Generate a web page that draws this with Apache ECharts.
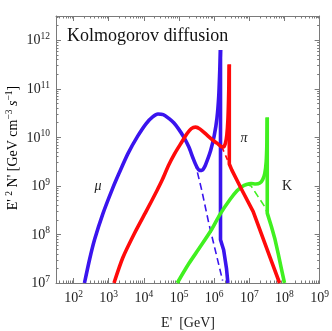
<!DOCTYPE html>
<html><head><meta charset="utf-8">
<script src="https://cdn.jsdelivr.net/npm/echarts@6/dist/echarts.min.js"></script>
<style>html,body{margin:0;padding:0;background:#fff}#c{width:332px;height:331px}</style>
</head><body><div id="c"></div>
<script>
// ---- data: log10(E'/GeV) and log10(E'^2 N') ----
const xTickExp = [2, 3, 4, 5, 6, 7, 8, 9];
const yTickExp = [7, 8, 9, 10, 11, 12];

// mu (blue)
const muE = [2.31, 2.46, 2.60, 2.83, 3.10, 3.30, 3.55, 3.82, 4.06, 4.25, 4.40, 4.55, 4.71, 4.85, 4.99, 5.14, 5.28, 5.40, 5.50, 5.58, 5.65, 5.72, 5.80, 5.90, 6.00, 6.08, 6.13, 6.16, 6.18];
const muN = [7.00, 7.50, 7.90, 8.42, 8.93, 9.27, 9.67, 10.02, 10.28, 10.42, 10.48, 10.47, 10.39, 10.30, 10.17, 10.00, 9.80, 9.57, 9.40, 9.32, 9.32, 9.38, 9.52, 9.73, 10.03, 10.40, 10.85, 11.40, 11.80];
const muTailE = [6.18, 6.18, 6.27, 6.35, 6.39];
const muTailN = [11.80, 7.89, 7.68, 7.30, 7.00];
const muDashE = [5.45, 5.65, 5.85, 6.05, 6.24];
const muDashN = [9.50, 8.90, 8.22, 7.62, 7.05];

// pi (red)
const piE = [3.15, 3.40, 3.73, 4.06, 4.37, 4.52, 4.70, 4.88, 5.04, 5.23, 5.35, 5.47, 5.60, 5.79, 5.95, 6.08, 6.18, 6.26, 6.32, 6.36, 6.39, 6.41, 6.43];
const piN = [7.00, 7.52, 8.02, 8.47, 8.90, 9.12, 9.42, 9.67, 9.86, 10.08, 10.18, 10.21, 10.17, 10.05, 9.95, 9.88, 9.82, 9.80, 9.88, 10.05, 10.35, 10.80, 11.50];
const piTailE = [6.43, 6.43, 6.50, 6.80, 7.11, 7.44, 7.65, 7.86];
const piTailN = [11.50, 9.45, 9.33, 8.90, 8.47, 7.82, 7.41, 7.00];
const piDashE = [6.22, 6.43];
const piDashN = [9.80, 9.45];

// K (green)
const kE = [4.95, 5.28, 5.56, 5.90, 6.17, 6.45, 6.65, 6.80, 6.92, 7.05, 7.18, 7.30, 7.38, 7.44, 7.48, 7.50, 7.51];
const kN = [7.00, 7.40, 7.70, 8.07, 8.42, 8.72, 8.90, 8.99, 9.03, 9.05, 9.04, 9.06, 9.13, 9.26, 9.50, 9.90, 10.41];
const kTailE = [7.51, 7.51, 7.63, 7.73, 7.82, 7.91, 8.00];
const kTailN = [10.41, 8.44, 8.16, 7.90, 7.61, 7.30, 7.00];
const kDashE = [6.92, 7.05, 7.25, 7.44, 7.51];
const kDashN = [9.03, 9.00, 8.78, 8.57, 8.44];

const titleText = 'Kolmogorov diffusion';

// ---- build ----
const FONT = 'Liberation Serif';
const BLUE = '#3a14ee', RED = '#ff0a0a', GREEN = '#40f020';
const X0 = 1.5, X1 = 9, Y0 = 7, Y1 = 12.5;
const zip = (a, b) => a.map((v, i) => [v, b[i]]);
function minors(lo, hi) {
  const out = [];
  for (let n = Math.floor(lo) - 1; n <= Math.ceil(hi); n++)
    for (let k = 2; k <= 9; k++) { const v = n + Math.log10(k); if (v > lo && v < hi) out.push(v); }
  return out;
}
const axisCol = '#7a7a7a';
const labRich = {
  b: { fontSize: 14, fontFamily: FONT, color: '#222', verticalAlign: 'bottom', lineHeight: 15 },
  s: { fontSize: 9.5, fontFamily: FONT, color: '#222', verticalAlign: 'bottom', lineHeight: 15, padding: [0, 0, 6, 0] }
};
const fmt = v => '{b|10}{s|' + Math.round(v) + '}';
function mkAxis(kind, pos, major, vals, min, max) {
  return {
    type: 'value', position: pos, min, max,
    axisLine: { show: major, lineStyle: { color: axisCol, width: 1 } },
    axisTick: { show: true, inside: true, length: major ? 5 : 2.5, customValues: vals, lineStyle: { color: axisCol, width: 1 } },
    axisLabel: (major && (pos === 'bottom' || pos === 'left')) ? {
      show: true, customValues: vals, formatter: fmt, rich: labRich, margin: pos === 'bottom' ? 7 : 6
    } : { show: false },
    splitLine: { show: false }
  };
}
const xs = [
  mkAxis('x', 'bottom', true, xTickExp, X0, X1),
  mkAxis('x', 'bottom', false, minors(X0, X1), X0, X1),
  mkAxis('x', 'top', true, xTickExp, X0, X1),
  mkAxis('x', 'top', false, minors(X0, X1), X0, X1)
];
const ys = [
  mkAxis('y', 'left', true, yTickExp, Y0, Y1),
  mkAxis('y', 'left', false, minors(Y0, Y1), Y0, Y1),
  mkAxis('y', 'right', true, yTickExp, Y0, Y1),
  mkAxis('y', 'right', false, minors(Y0, Y1), Y0, Y1)
];
function line(data, color, opts) {
  return Object.assign({
    type: 'line', data, xAxisIndex: 0, yAxisIndex: 0, showSymbol: false, symbol: 'none',
    animation: false, clip: true,
    lineStyle: { color, width: 3.6, join: 'round' }, z: 3
  }, opts || {});
}
const series = [
  line(zip(muDashE, muDashN), BLUE, { lineStyle: { color: BLUE, width: 1.6, type: [7, 4] } }),
  line(zip(piDashE, piDashN), RED, { lineStyle: { color: RED, width: 1.6, type: [5, 4] } }),
  line(zip(kDashE, kDashN), GREEN, { lineStyle: { color: GREEN, width: 1.6, type: [7, 4] } }),
  line(zip(muE, muN), BLUE, { smooth: 0.25 }),
  line(zip(muTailE, muTailN), BLUE),
  line(zip(kE, kN), GREEN, { smooth: 0.25 }),
  line(zip(kTailE, kTailN), GREEN),
  line(zip(piE, piN), RED, { smooth: 0.25 }),
  line(zip(piTailE, piTailN), RED)
];
const supRich = {
  n: { fontSize: 14, fontFamily: FONT, color: '#222', verticalAlign: 'bottom', lineHeight: 16 },
  i: { fontSize: 14, fontFamily: FONT, fontStyle: 'italic', color: '#222', verticalAlign: 'bottom', lineHeight: 16 },
  s: { fontSize: 9.5, fontFamily: FONT, color: '#222', verticalAlign: 'bottom', lineHeight: 16, padding: [0, 0, 6, 0] }
};
const chart = echarts.init(document.getElementById('c'), null, { renderer: 'canvas' });
chart.setOption({
  animation: false,
  backgroundColor: '#fff',
  grid: { left: 56, right: 10, top: 16, bottom: 48, containLabel: false },
  xAxis: xs, yAxis: ys, series,
  graphic: [
    { type: 'text', left: 67, top: 27, style: { text: titleText, font: '18px "Liberation Serif"', fill: '#111' } },
    { type: 'text', x: 12, y: 148, rotation: Math.PI / 2,
      style: { text: "{n|E' }{s|2}{n| N' [GeV cm}{s|−3}{n| }{i|s}{s|−1}{n|]}", rich: supRich, align: 'center', verticalAlign: 'middle' } },
    { type: 'text', x: 188, y: 323,
      style: { text: "E'  [GeV]", font: '14px "Liberation Serif"', fill: '#222', align: 'center', verticalAlign: 'middle' } },
    { type: 'text', x: 98, y: 186, style: { text: 'μ', font: 'italic 14px "Liberation Serif"', fill: '#222', align: 'center', verticalAlign: 'middle' } },
    { type: 'text', x: 244, y: 138, style: { text: 'π', font: 'italic 14px "Liberation Serif"', fill: '#222', align: 'center', verticalAlign: 'middle' } },
    { type: 'text', x: 287, y: 186, style: { text: 'K', font: '14px "Liberation Serif"', fill: '#222', align: 'center', verticalAlign: 'middle' } }
  ]
});
</script></body></html>
